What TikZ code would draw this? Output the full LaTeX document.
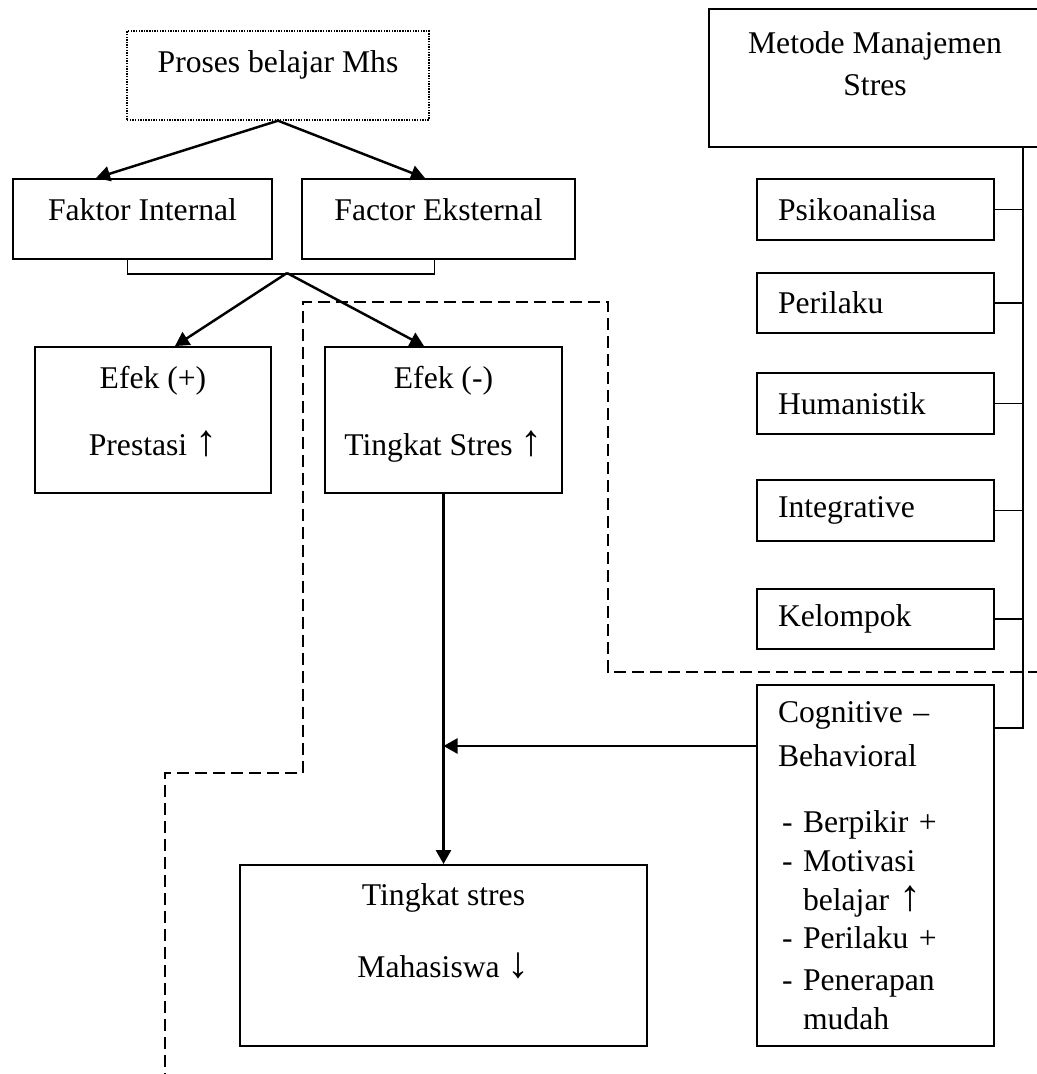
\documentclass[tikz,border=0pt]{standalone}
\usepackage{fontspec}
\setmainfont{Liberation Serif}
\usetikzlibrary{arrows.meta}
\newcommand{\lift}[1]{\rule[-#1]{0pt}{#1}}
\newcommand{\itm}{\hspace*{0.08cm}\makebox[0.42cm][l]{-}}
\newcommand{\cont}{\hspace*{0.5cm}}
\newcommand{\upar}{{\fontsize{25}{22}\selectfont ↑}}
\newcommand{\dnar}{{\fontsize{25}{22}\selectfont ↓}}
\begin{document}
\begin{tikzpicture}[
  x=0.02cm, y=-0.02cm,
  cell/.style={rectangle,draw,line width=1.1pt,align=center,inner sep=0pt,font=\fontsize{18}{22}\selectfont},
  dotcell/.style={cell,line width=0.8pt,dash pattern=on 0.8pt off 0.7pt},
  method/.style={rectangle,draw,line width=1.1pt,align=left,text width=3.9cm,inner xsep=0.42cm,inner ysep=0pt,font=\fontsize{18}{22}\selectfont},
  arr/.style={line width=1.4pt,-{Triangle[length=0.28cm,width=0.3cm]}},
  link/.style={line width=1.1pt},
  guide/.style={line width=1.1pt,dash pattern=on 0.24cm off 0.12cm}
  ]
  \useasboundingbox (0,0) rectangle (1036,1074);
  % left column
  \node[dotcell, minimum width=6.04cm, minimum height=1.78cm] (proses) at (278,75.5) {Proses belajar Mhs\lift{16pt}};
  \node[cell, minimum width=5.18cm, minimum height=1.6cm] (fi) at (142.5,219) {Faktor Internal\lift{10.8pt}};
  \node[cell, minimum width=5.46cm, minimum height=1.6cm] (fe) at (438.5,219) {Factor Eksternal\lift{10.8pt}};
  \node[cell, minimum width=4.72cm, minimum height=2.92cm] (efekpos) at (153,420) {Efek (+)\\[16pt]Prestasi \upar\lift{10pt}};
  \node[cell, minimum width=4.74cm, minimum height=2.92cm] (efekneg) at (443.5,420) {Efek (-)\\[16pt]Tingkat Stres \upar\lift{10pt}};
  \node[cell, minimum width=8.14cm, minimum height=3.62cm] (tingkat) at (443.5,955.5) {Tingkat stres\\[19pt]Mahasiswa \dnar\lift{28pt}};
  % right column
  \node[cell, minimum width=6.64cm, minimum height=2.76cm] (metode) at (875,78) {Metode Manajemen\\[2pt]Stres\lift{16.5pt}};
  \node[method, minimum height=1.22cm] (psiko) at (875.5,209.5) {Psikoanalisa};
  \node[method, minimum height=1.2cm] (perilaku) at (875.5,303) {Perilaku};
  \node[method, minimum height=1.22cm] (human) at (875.5,403.5) {Humanistik};
  \node[method, minimum height=1.22cm] (integ) at (875.5,510.5) {Integrative};
  \node[method, minimum height=1.2cm] (kelompok) at (875.5,619) {Kelompok};
  \node[method, minimum height=7.22cm, inner ysep=0.2cm] (cbt) at (875.5,865.5) {Cognitive --\\[3pt]Behavioral\\[16pt]
    \itm Berpikir +\\ \itm Motivasi\\ \cont belajar \upar\\ \itm Perilaku +\\[2pt] \itm Penerapan\\ \cont mudah};
  \coordinate (busx) at (1023,0);
  \coordinate (jn) at (287,273);
  \coordinate (hy) at (0,746);
  % connectors
  \draw[arr] (proses.south) -- ([xshift=-0.93cm]fi.north);
  \draw[arr] (proses.south) -- ([xshift=-0.27cm]fe.north);
  \draw[link] ([xshift=-0.3cm]fi.south) -- ++(0,14) -| ([xshift=-0.08cm]fe.south);
  \draw[arr] (jn) -- ([xshift=0.44cm]efekpos.north);
  \draw[arr] (jn) -- ([xshift=-0.39cm]efekneg.north);
  \draw[arr] (efekneg.south) -- (tingkat.north);
  \draw[arr] (cbt.west |- hy) -- (efekneg.south |- hy);
  \draw[link] (metode.south -| busx) -- ([yshift=-0.88cm]cbt.north -| busx) -- ([yshift=-0.88cm]cbt.north east);
  \foreach \b in {psiko,perilaku,human,integ,kelompok}
    \draw[link] (\b.east) -- (\b.east -| busx);
  % dashed guide
  \draw[guide] (1040,672) -| (608,302) -| (303,773) -| (165,1080);
\end{tikzpicture}
\end{document}
